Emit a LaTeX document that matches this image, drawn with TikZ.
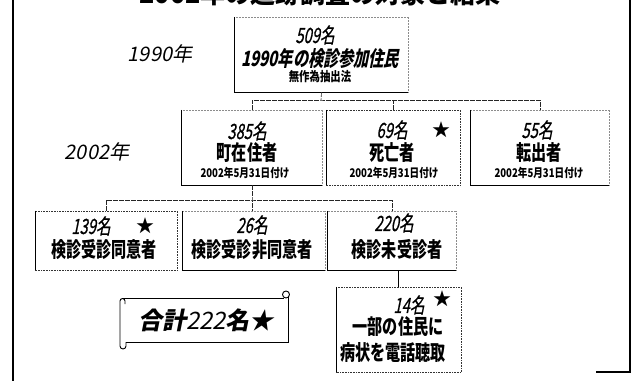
\documentclass[tikz,border=0pt]{standalone}
\usepackage{fontspec}
\newfontfamily\jpn{Noto Sans CJK JP}[FakeStretch=0.72]
\newfontfamily\jpni{Noto Sans CJK JP}[FakeStretch=0.72,FakeSlant=0.2]
\newfontfamily\jpnum{Noto Sans CJK JP}[FakeStretch=0.7,FakeSlant=0.2,FakeBold=0.6]
\newfontfamily\jpd{Noto Sans CJK JP}[FakeStretch=0.8]
\newfontfamily\jpl{Noto Sans CJK JP}[FakeSlant=0.2]
\newfontfamily\jpw{Noto Sans CJK JP}
\begin{document}
\begin{tikzpicture}[x=1pt,y=-1pt,
  box/.style={draw=none,inner sep=0pt},
  heavyedge/.style={line width=1pt,black},
  faintedge/.style={line width=0.5pt,black!45,densely dotted},
  dotedge/.style={line width=0.6pt,black!80,densely dotted},
  conn/.style={line width=0.6pt,black!85,dash pattern=on 5pt off 1pt},
  frameline/.style={line width=1.3pt,black},
  scroll/.style={line width=0.9pt,black},
  numtxt/.style={inner sep=0pt,font=\jpnum\fontsize{21}{21}\selectfont},
  maintxt/.style={inner sep=0pt,font=\jpn\bfseries\fontsize{21}{21}\selectfont},
  datetxt/.style={inner sep=0pt,font=\jpd\bfseries\fontsize{12}{12}\selectfont},
  startxt/.style={inner sep=0pt,font=\jpw\fontsize{18}{18}\selectfont},
  yeartxt/.style={inner sep=0pt,font=\jpl\fontsize{20}{20}\selectfont}]
\useasboundingbox (0,0) rectangle (638,381);
\clip (0,0) rectangle (638,381);

% title (cut at the top, as in the reference)
\node[anchor=base,inner sep=0pt,font=\jpw\bfseries\fontsize{25}{25}\selectfont] (title) at (320,3) {2002年の追跡調査の対象と結果};

% frame
\draw[frameline] (13,0) -- (13,381);
\draw[frameline] (630,0) -- (630,372) -- (596,372);

% year labels
\node[yeartxt] (y1990) at (160,54) {1990年};
\node[yeartxt] (y2002) at (97,152) {2002年};

% boxes
\node[box,minimum width=173pt,minimum height=75pt] (p509) at (321.5,54.5) {};
\node[box,minimum width=140pt,minimum height=75pt] (p385) at (252,147.5) {};
\node[box,minimum width=134pt,minimum height=75pt] (p69) at (393,147.5) {};
\node[box,minimum width=138pt,minimum height=75pt] (p55) at (540,147.5) {};
\node[box,minimum width=142pt,minimum height=59pt] (p139) at (106,240.5) {};
\node[box,minimum width=142pt,minimum height=59pt] (p26) at (254,240.5) {};
\node[box,minimum width=128pt,minimum height=59pt] (p220) at (392,240.5) {};
\node[box,minimum width=125pt,minimum height=85pt] (p14) at (398.5,329.5) {};

\foreach \n in {p509,p385,p55,p26,p220}{
  \draw[faintedge] (\n.south east) -- (\n.north east) -- (\n.north west);
  \draw[heavyedge] (\n.north west) -- (\n.south west) -- (\n.south east);
}
\foreach \n in {p69,p139,p14}{
  \draw[dotedge] (\n.north west) rectangle (\n.south east);
  \draw[line width=0.6pt] (\n.north west) -- (\n.south west);
}

% connectors
\coordinate (bus1) at (321,100);
\coordinate (bus2) at (252,200);
\draw[conn] (p509.south) -- (bus1);
\draw[conn] (p385.north) |- (bus1) -| (p55.north);
\draw[conn] (p69.north) -- (p69.north |- bus1);
\draw[conn] (p385.south) -- (bus2) -- (bus2 |- p26.north);
\draw[conn] (p139.north) |- (bus2) -| (p220.north);
\draw[line width=0.7pt] (p220.south -| p14.north) -- (p14.north);

% texts: top
\node[numtxt] (t509a) at (315,35) {509名};
\node[inner sep=0pt,font=\jpni\bfseries\fontsize{21}{21}\selectfont] (t509b) at (320,59) {1990年の検診参加住民};
\node[inner sep=0pt,font=\jpd\bfseries\fontsize{13}{13}\selectfont] (t509c) at (320,77) {無作為抽出法};

% row 2
\node[numtxt] (t385a) at (247,131) {385名};
\node[maintxt] (t385b) at (247,153) {町在住者};
\node[datetxt] (t385c) at (245,173) {2002年5月31日付け};

\node[numtxt] (t69a) at (392,130) {69名};
\node[startxt] (s69) at (441,130) {★};
\node[maintxt] (t69b) at (392,153) {死亡者};
\node[datetxt] (t69c) at (394,173) {2002年5月31日付け};

\node[numtxt] (t55a) at (537,130) {55名};
\node[maintxt] (t55b) at (539,153) {転出者};
\node[datetxt] (t55c) at (539,173) {2002年5月31日付け};

% row 3
\node[numtxt] (t139a) at (91,226) {139名};
\node[startxt] (s139) at (145,226) {★};
\node[maintxt] (t139b) at (104,250) {検診受診同意者};

\node[numtxt] (t26a) at (252,225) {26名};
\node[maintxt] (t26b) at (252,250) {検診受診非同意者};

\node[numtxt] (t220a) at (394,223) {220名};
\node[maintxt] (t220b) at (397,250) {検診未受診者};

% 14 box
\node[numtxt] (t14a) at (409,305) {14名};
\node[startxt] (s14) at (442,299) {★};
\node[maintxt] (t14b) at (398,327) {一部の住民に};
\node[maintxt] (t14c) at (393,353) {病状を電話聴取};

% scroll banner
\draw[scroll] (123,298) -- (284,298);
\draw[scroll] (288,296) -- (288,342) -- (126,342);
\draw[scroll] (120,301) -- (120,346) arc (180:0:3) -- (126,342);
\draw[scroll] (120,301) arc (180:360:2.5) -- (125,304);
\draw[scroll] (286,294.5) circle (3.5pt);
\node[inner sep=0pt,font=\jpl\fontsize{24}{24}\selectfont] (total) at (206,320) {{\bfseries 合計}222{\bfseries 名★}};
\end{tikzpicture}
\end{document}
